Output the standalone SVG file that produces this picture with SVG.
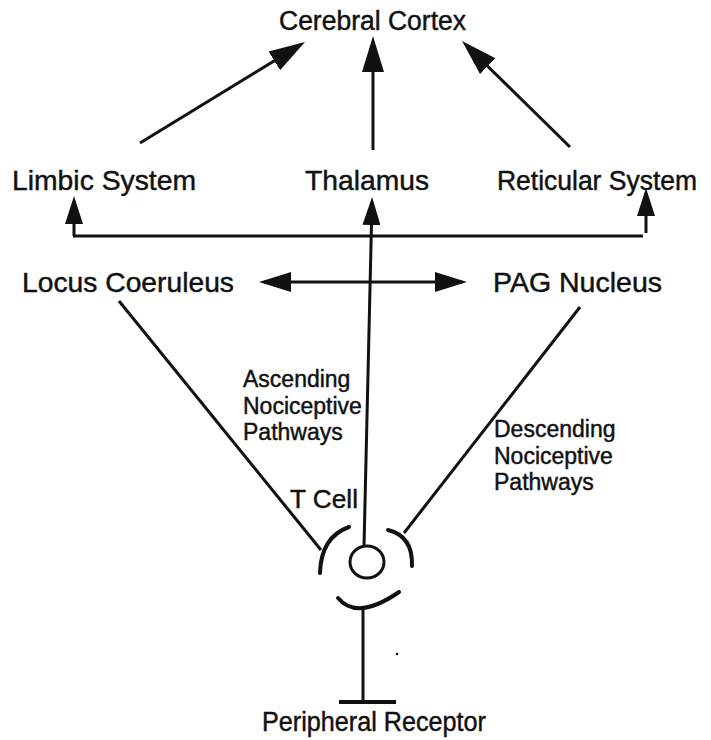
<svg xmlns="http://www.w3.org/2000/svg" width="711" height="740" viewBox="0 0 711 740">
<style>
text{font-family:"Liberation Sans",Arial,sans-serif;fill:#111;stroke:#111;stroke-width:0.45}
.big{font-size:27px}
.sm{font-size:23px}
.ln{stroke:#111;stroke-width:3;fill:none}
.thick{stroke:#111;stroke-width:4;fill:none;stroke-linecap:round}
</style>
<defs>
<marker id="ah" markerUnits="userSpaceOnUse" markerWidth="36" markerHeight="24" viewBox="0 0 36 24" refX="30" refY="12" orient="auto">
<path d="M0,1 L36,12 L0,23 z" fill="#111"/>
</marker>
<marker id="as" markerUnits="userSpaceOnUse" markerWidth="28" markerHeight="18" viewBox="0 0 28 18" refX="23" refY="9" orient="auto">
<path d="M0,0 L28,9 L0,18 z" fill="#111"/>
</marker>
<marker id="ad" markerUnits="userSpaceOnUse" markerWidth="32" markerHeight="20" viewBox="0 0 32 20" refX="27" refY="10" orient="auto-start-reverse">
<path d="M0,0 L32,10 L0,20 z" fill="#111"/>
</marker>
</defs>
<g id="cortex"><text class="big" x="279" y="30" textLength="187" lengthAdjust="spacingAndGlyphs">Cerebral Cortex</text></g>
<g id="limbic"><text class="big" x="12" y="190" style="font-size:28px" textLength="184" lengthAdjust="spacingAndGlyphs">Limbic System</text></g>
<g id="thalamus"><text class="big" x="305" y="190" style="font-size:28px" textLength="124" lengthAdjust="spacingAndGlyphs">Thalamus</text></g>
<g id="reticular"><text class="big" x="497" y="190" textLength="200" lengthAdjust="spacingAndGlyphs">Reticular System</text></g>
<g id="locus"><text class="big" x="22" y="292" style="font-size:28px" textLength="212" lengthAdjust="spacingAndGlyphs">Locus Coeruleus</text></g>
<g id="pag"><text class="big" x="493" y="292" style="font-size:28px" textLength="169" lengthAdjust="spacingAndGlyphs">PAG Nucleus</text></g>
<g id="ascending"><text class="sm" x="243" y="387">Ascending</text><text class="sm" x="243" y="414">Nociceptive</text><text class="sm" x="243" y="440">Pathways</text></g>
<g id="descending"><text class="sm" x="494" y="437">Descending</text><text class="sm" x="494" y="464">Nociceptive</text><text class="sm" x="494" y="490">Pathways</text></g>
<g id="tcell"><text x="290" y="508" style="font-size:26px" textLength="68" lengthAdjust="spacingAndGlyphs">T Cell</text>
<ellipse cx="367" cy="562" rx="17" ry="16" class="ln"/></g>
<g id="receptor"><text x="262" y="731" style="font-size:27px" textLength="224" lengthAdjust="spacingAndGlyphs">Peripheral Receptor</text></g>
<g id="connectors">
<line class="ln" x1="140" y1="143" x2="299.9" y2="45.1" marker-end="url(#ah)"/>
<line class="ln" x1="373" y1="150" x2="373" y2="42" marker-end="url(#ah)"/>
<line class="ln" x1="570" y1="147" x2="466.3" y2="45.2" marker-end="url(#ah)"/>
<line class="ln" x1="73" y1="236" x2="643" y2="236"/>
<line class="ln" x1="74" y1="236" x2="74" y2="201" marker-end="url(#as)"/>
<line class="ln" x1="646" y1="233" x2="646" y2="193" marker-end="url(#as)"/>
<line class="ln" x1="364" y1="546" x2="372" y2="202" marker-end="url(#as)"/>
<line class="ln" x1="264" y1="282" x2="462" y2="282" marker-start="url(#ad)" marker-end="url(#ad)"/>
<line class="ln" x1="119" y1="301" x2="321" y2="550"/>
<line class="ln" x1="580" y1="307" x2="404" y2="533"/>
<path class="thick" d="M320,573 Q321,537 349,527"/>
<path class="thick" d="M388,530 Q413,536 412,566"/>
<path class="thick" d="M338,598 Q357,621 399,592"/>
<line class="ln" x1="363" y1="608" x2="363" y2="702"/>
<line class="thick" x1="339" y1="702" x2="396" y2="702" style="stroke-linecap:butt"/>
</g>
<circle cx="397" cy="654" r="1.3" fill="#111"/>
</svg>
